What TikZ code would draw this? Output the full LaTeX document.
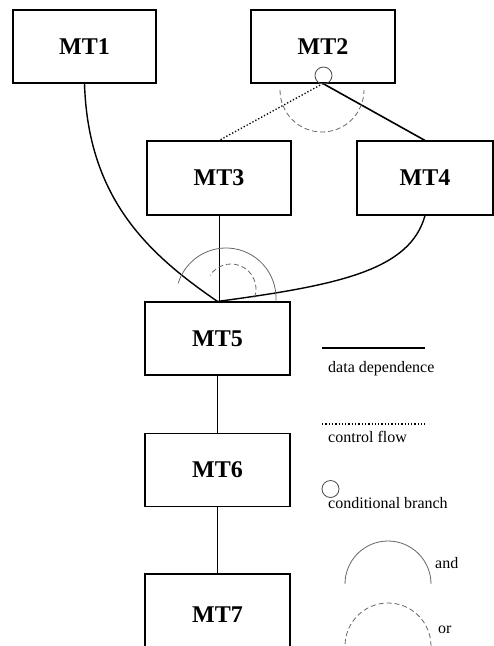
\documentclass[tikz,border=0pt]{standalone}
\usepackage{fontspec}
\setmainfont{Liberation Serif}
\begin{document}
\begin{tikzpicture}[x=1pt,y=1pt,
  task/.style={draw=black, line width=1.1pt, rectangle, inner sep=0pt,
    minimum height=73pt, font=\fontsize{24}{28}\selectfont\bfseries},
  datadep/.style={draw=black, line width=1.4pt},
  ctrlflow/.style={draw=black, line width=1.3pt, dotted},
  andarc/.style={draw=black!60, line width=0.8pt},
  orarc/.style={draw=black!60, line width=0.8pt, dash pattern=on 5pt off 3pt},
  condmark/.style={draw=black!70, line width=0.8pt},
  legendtext/.style={anchor=base west, inner sep=0pt, font=\fontsize{16}{19}\selectfont}]
\useasboundingbox (0,0) rectangle (494,-646);

% task boxes
\node[task, minimum width=143pt] (mt1) at (84.5,-46.5) {MT1};
\node[task, minimum width=144pt] (mt2) at (323,-46.5) {MT2};
\node[task, minimum width=144pt, minimum height=74pt] (mt3) at (219,-178) {MT3};
\node[task, minimum width=136pt, minimum height=74pt] (mt4) at (425,-178) {MT4};
\node[task, minimum width=145pt] (mt5) at (217.5,-338.5) {MT5};
\node[task, minimum width=145pt] (mt6) at (217.5,-470) {MT6};
\node[task, minimum width=145pt, minimum height=82pt] (mt7) at (217.5,-615) {MT7};

% dependences between tasks
\draw[datadep] (mt1.south) .. controls (88,-200) and (150,-255) .. (mt5.north);
\draw[datadep, line width=1pt] (mt3.south) -- (mt3.south |- mt5.north);
\draw[datadep] (mt4.south) .. controls (410,-270) and (340,-285) .. (mt5.north);
\draw[ctrlflow] (mt2.south) -- (mt3.north);
\draw[datadep, line width=1.6pt] (mt2.south) -- (mt4.north);
\draw[datadep, line width=1pt] (mt5.south) -- (mt6.north);
\draw[datadep, line width=1pt] (mt6.south) -- (mt7.north);

% conditional branch at MT2 with its "or" arc
\coordinate (cond) at (323.5,-75.5);
\draw[condmark] (cond) circle[radius=8.5pt];
\coordinate (orTop) at (322,-90);
\draw[orarc] ([shift={(180:42pt)}]orTop) arc[start angle=180, end angle=360, radius=42pt];

% "and" / "or" arcs joining into MT5
\coordinate (andJoin) at (226,-298);
\draw[andarc] ([shift={(-3:50pt)}]andJoin) arc[start angle=-3, end angle=163, radius=50pt];
\coordinate (orJoin) at (231,-289);
\draw[orarc] ([shift={(-20:25pt)}]orJoin) arc[start angle=-20, end angle=147, radius=25pt];

% legend
\coordinate (ddA) at (322,-348);
\coordinate (ddB) at (425,-348);
\draw[datadep, line width=2pt] (ddA) -- (ddB);
\node[legendtext] (ddText) at (328,-372) {data dependence};

\coordinate (cfA) at (322,-424);
\coordinate (cfB) at (425,-424);
\draw[ctrlflow] (cfA) -- (cfB);
\node[legendtext] (cfText) at (328,-442) {control flow};

\coordinate (cbMark) at (330.5,-489);
\draw[condmark] (cbMark) circle[radius=8.5pt];
\node[legendtext] (cbText) at (328,-508) {conditional branch};

\coordinate (andKey) at (388,-584);
\draw[andarc] ([shift={(0:43pt)}]andKey) arc[start angle=0, end angle=180, radius=43pt];
\node[legendtext] (andText) at (435,-568) {and};

\coordinate (orKey) at (388,-646);
\draw[orarc] ([shift={(0:43pt)}]orKey) arc[start angle=0, end angle=180, radius=43pt];
\node[legendtext] (orText) at (438,-633) {or};
\end{tikzpicture}
\end{document}
